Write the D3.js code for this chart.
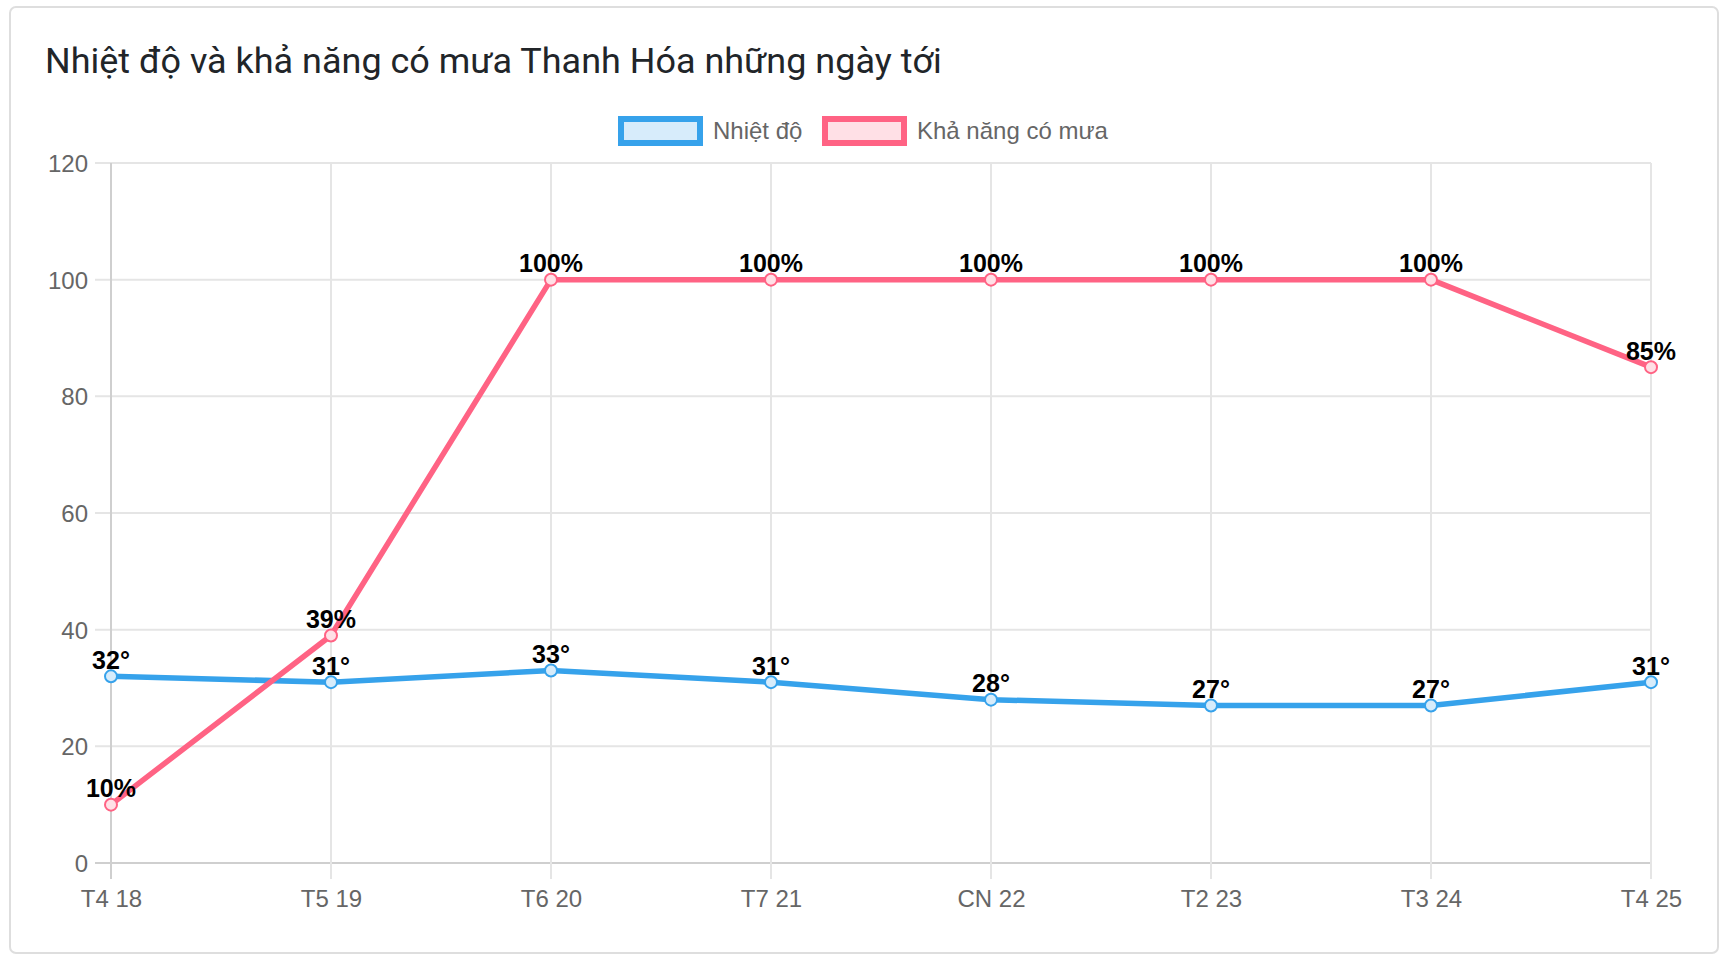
<!DOCTYPE html>
<html>
<head>
    <meta charset="utf-8">
    <script src="https://cdn.jsdelivr.net/npm/d3@7"></script>
    <style>
        body {
            margin: 0;
            background-color: #ffffff;
        }
        .chart-text {
            font-family: "Liberation Sans", Arial, sans-serif;
            font-size: 24px;
            fill: #666666;
        }
    </style>
</head>
<body>
<script>
    // data
    var days = ["T4 18", "T5 19", "T6 20", "T7 21", "CN 22", "T2 23", "T3 24", "T4 25"];
    var temps = [32, 31, 33, 31, 28, 27, 27, 31];
    var rain = [10, 39, 100, 100, 100, 100, 100, 85];
    var yTicks = [0, 20, 40, 60, 80, 100, 120];
    var seriesNames = ["Nhiệt độ", "Khả năng có mưa"];
    var title = "Nhiệt độ và khả năng có mưa Thanh Hóa những ngày tới";

    var W = 1732, H = 964;
    // note: "top" is taken by window.top, so plot* names
    var plotLeft = 111, plotRight = 1651, plotTop = 163, plotBottom = 863;

    var svg = d3.select("body")
        .append("svg")
        .attr("width", W)
        .attr("height", H);

    // card
    svg.append("rect")
        .attr("x", 10).attr("y", 7)
        .attr("width", 1708).attr("height", 946)
        .attr("rx", 6)
        .attr("fill", "#fff")
        .attr("stroke", "#dedede")
        .attr("stroke-width", 2);

    // title, sized to the reference width
    var t = svg.append("text")
        .attr("x", 45).attr("y", 73)
        .style("font-family", "Roboto, 'Noto Sans', sans-serif")
        .style("font-size", "34px")
        .style("fill", "#212529")
        .text(title);
    var tw = t.node().getComputedTextLength();
    t.style("font-size", (34 * 897 / tw) + "px");

    var x = d3.scalePoint().domain(days).range([plotLeft, plotRight]);
    var y = d3.scaleLinear().domain([0, 120]).range([plotBottom, plotTop]);

    // gridlines
    svg.append("g").selectAll("line")
        .data(yTicks)
        .enter()
        .append("line")
        .attr("x1", plotLeft - 16).attr("x2", plotRight)
        .attr("y1", function (d) { return y(d); })
        .attr("y2", function (d) { return y(d); })
        .attr("stroke", function (d) { return d === 0 ? "#cfcfcf" : "#e5e5e5"; })
        .attr("stroke-width", 2);

    svg.append("g").selectAll("line")
        .data(days)
        .enter()
        .append("line")
        .attr("x1", function (d) { return x(d); })
        .attr("x2", function (d) { return x(d); })
        .attr("y1", plotTop).attr("y2", plotBottom + 16)
        .attr("stroke", function (d, i) { return i === 0 ? "#cfcfcf" : "#e5e5e5"; })
        .attr("stroke-width", 2);

    // axis labels
    var yAxis = svg.append("g")
        .attr("transform", "translate(" + (plotLeft - 16) + ",0)")
        .call(d3.axisLeft(y).tickValues(yTicks).tickSize(0).tickPadding(7));
    yAxis.select(".domain").remove();
    yAxis.selectAll("text").attr("class", "chart-text").attr("dy", "0.36em");

    var xAxis = svg.append("g")
        .attr("transform", "translate(0," + (plotBottom + 16) + ")")
        .call(d3.axisBottom(x).tickSize(0).tickPadding(11));
    xAxis.select(".domain").remove();
    xAxis.selectAll("text").attr("class", "chart-text");

    // series
    var series = [
        { name: seriesNames[0], values: temps, color: "rgb(54,162,235)", fill: "rgb(215,236,251)", suffix: "°" },
        { name: seriesNames[1], values: rain, color: "rgb(255,99,132)", fill: "rgb(255,224,230)", suffix: "%" }
    ];

    var line = d3.line()
        .x(function (d, i) { return x(days[i]); })
        .y(function (d) { return y(d); });

    series.forEach(function (s) {
        svg.append("path")
            .datum(s.values)
            .attr("d", line)
            .attr("fill", "none")
            .attr("stroke", s.color)
            .attr("stroke-width", 5.5)
            .attr("stroke-linejoin", "round");

        svg.append("g").selectAll("circle")
            .data(s.values)
            .enter()
            .append("circle")
            .attr("cx", function (d, i) { return x(days[i]); })
            .attr("cy", function (d) { return y(d); })
            .attr("r", 6)
            .attr("fill", s.fill)
            .attr("stroke", s.color)
            .attr("stroke-width", 2);
    });

    // value labels on top
    series.forEach(function (s) {
        svg.append("g").selectAll("text")
            .data(s.values)
            .enter()
            .append("text")
            .attr("x", function (d, i) { return x(days[i]); })
            .attr("y", function (d) { return y(d) - 7.5; })
            .attr("text-anchor", "middle")
            .style("font-family", "'Liberation Sans', Arial, sans-serif")
            .style("font-weight", "bold")
            .style("font-size", "25px")
            .style("fill", "#000")
            .text(function (d) { return d + s.suffix; });
    });

    // legend
    var legendX = [618, 822];
    var legend = svg.append("g").selectAll("g")
        .data(series)
        .enter()
        .append("g")
        .attr("transform", function (d, i) { return "translate(" + legendX[i] + ",116)"; });

    legend.append("rect")
        .attr("x", 3).attr("y", 3)
        .attr("width", 79).attr("height", 24)
        .attr("fill", function (d) { return d.fill; })
        .attr("stroke", function (d) { return d.color; })
        .attr("stroke-width", 6);

    legend.append("text")
        .attr("class", "chart-text")
        .attr("x", 95).attr("y", 23)
        .text(function (d) { return d.name; });
</script>
</body>
</html>
